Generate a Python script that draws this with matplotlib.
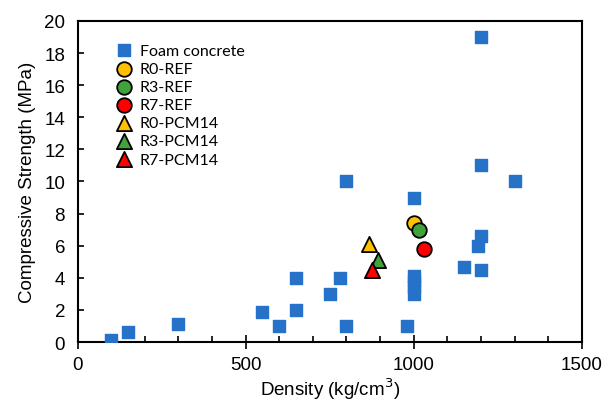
import matplotlib.pyplot as plt
from matplotlib.ticker import MultipleLocator

# foam concrete literature data
foam_density = [100, 150, 300, 550, 600, 650, 650, 750, 780, 800, 800,
                980, 1000, 1000, 1000, 1000, 1000, 1150, 1190, 1200, 1200, 1200, 1200, 1300]
foam_strength = [0.1, 0.6, 1.1, 1.9, 1.0, 4.0, 2.0, 3.0, 4.0, 10.0, 1.0,
                 1.0, 9.0, 3.0, 3.4, 3.8, 4.1, 4.7, 6.0, 6.6, 4.5, 11.0, 19.0, 10.0]

ref_names = ["R0-REF", "R3-REF", "R7-REF"]
ref_density = [1000, 1015, 1030]
ref_strength = [7.4, 7.0, 5.8]

pcm_names = ["R0-PCM14", "R3-PCM14", "R7-PCM14"]
pcm_density = [866, 895, 877]
pcm_strength = [6.1, 5.1, 4.5]

colors = ["#FFC000", "#3FA23A", "#FF0000"]

plt.rcParams['font.family'] = ['Liberation Sans', 'DejaVu Sans']

fig = plt.figure(figsize=(6.06, 4.06), dpi=100)
ax = fig.add_axes([0.128, 0.155, 0.832, 0.791])

ax.scatter(foam_density, foam_strength, marker='s', s=72, color='#2672C8',
           label='Foam concrete', zorder=3)
for i in range(3):
    ax.scatter(ref_density[i], ref_strength[i], marker='o', s=110, color=colors[i],
               edgecolors='black', linewidths=1.3, label=ref_names[i], zorder=4)
for i in range(3):
    ax.scatter(pcm_density[i], pcm_strength[i], marker='^', s=120, color=colors[i],
               edgecolors='black', linewidths=1.3, label=pcm_names[i], zorder=4)

ax.set_xlim(0, 1500)
ax.set_ylim(0, 20)
ax.xaxis.set_major_locator(MultipleLocator(500))
ax.xaxis.set_minor_locator(MultipleLocator(100))
ax.yaxis.set_major_locator(MultipleLocator(2))
ax.tick_params(axis='x', which='major', direction='inout', length=10, width=1.2,
               labelsize=13.5, pad=5)
ax.tick_params(axis='x', which='minor', direction='in', length=4, width=1.2)
ax.tick_params(axis='y', which='major', direction='in', length=4, width=1.2,
               labelsize=13.5, pad=9)
for sp in ax.spines.values():
    sp.set_linewidth(1.5)

ax.set_xlabel('Density (kg/cm$^3$)', fontsize=13.5, labelpad=2)
ax.set_ylabel('Compressive Strength (MPa)', fontsize=13.5, labelpad=6)

ax.legend(loc='upper left', bbox_to_anchor=(0.055, 0.96), frameon=False,
          prop={'family': 'Lato', 'size': 11.5}, handletextpad=0.35,
          labelspacing=0.25, borderaxespad=0.2, handlelength=1.2)

fig.savefig('out.png', dpi=100)
